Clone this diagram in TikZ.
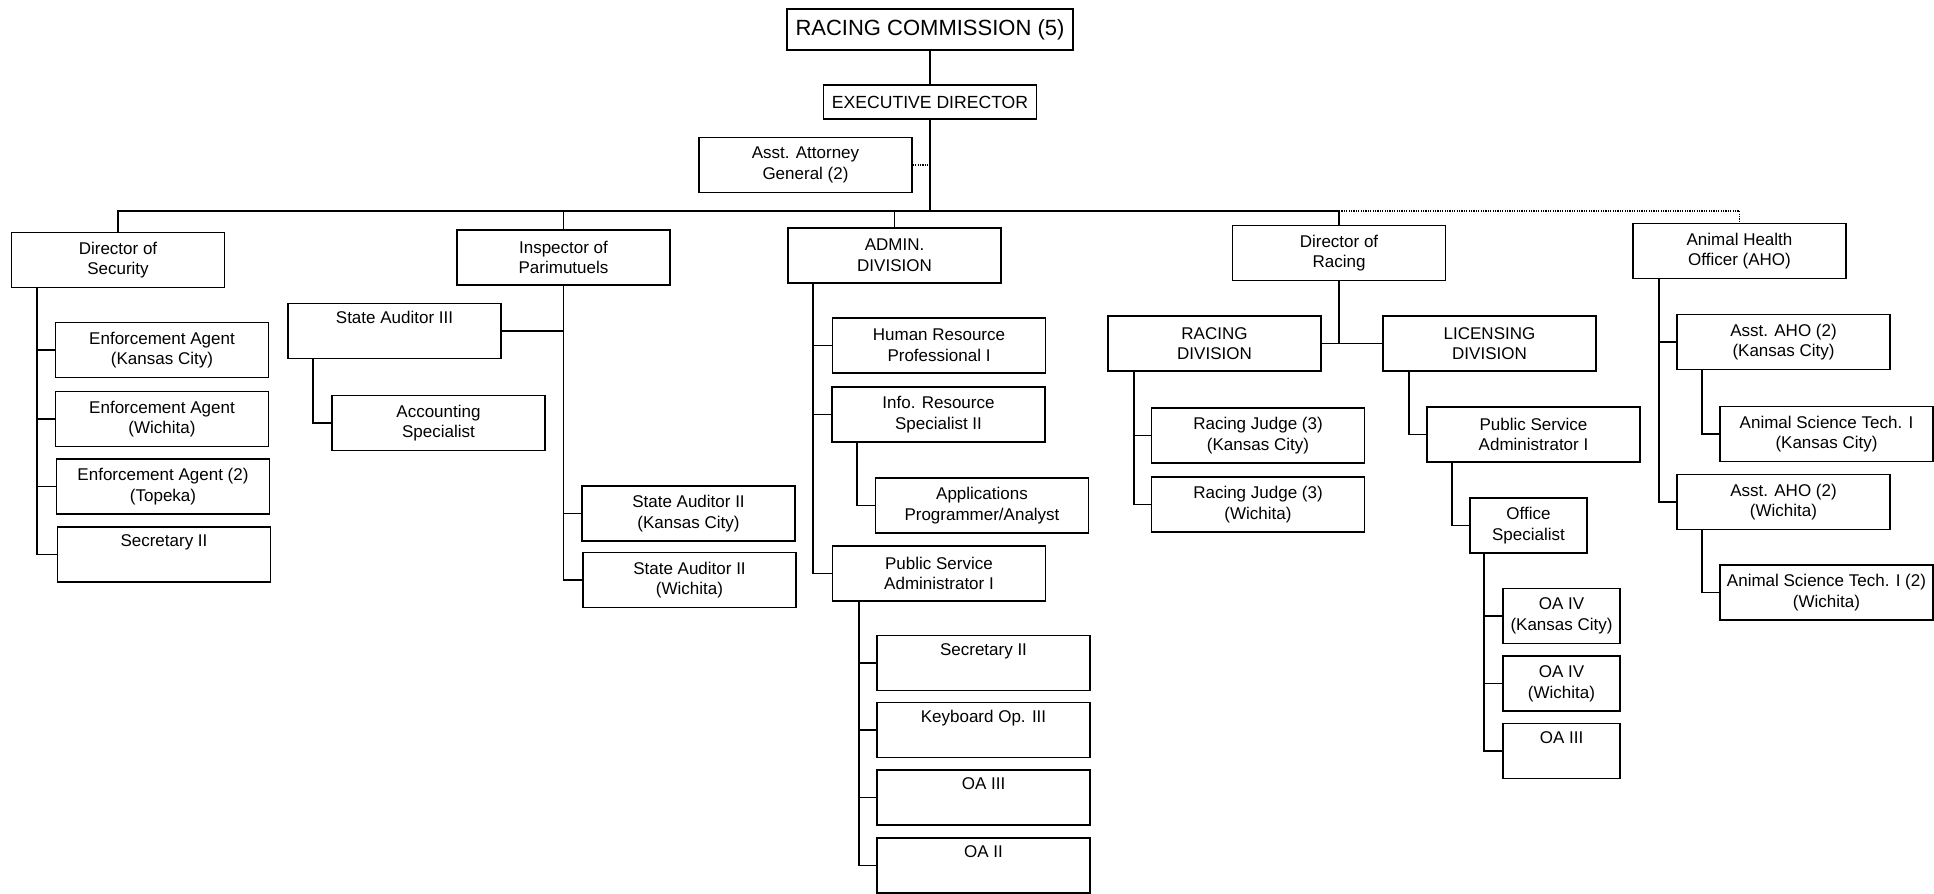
\documentclass[tikz,border=0pt]{standalone}
\usepackage{fontspec}
\setmainfont{Liberation Sans}

\begin{document}
\begin{tikzpicture}[x=0.5pt,y=-0.5pt,
	post/.style={draw,line width=0.8pt,minimum width=106.5pt,minimum height=27.5pt,inner sep=0pt,align=center,font=\fontsize{8.5}{10.35}\selectfont},
	postnarrow/.style={post,minimum width=58.5pt},
	link/.style={line width=0.8pt},
	dotlink/.style={line width=0.8pt,dash pattern=on 0.6pt off 0.6pt}]
	\useasboundingbox (0,0) rectangle (1934,894); %same size as the chart

	%Shape: Rectangle (top)
	\node [post,minimum width=143pt,minimum height=20.5pt,font=\fontsize{11}{13}\selectfont] (rc) at (930,29.5) {RACING COMMISSION (5)};
	\node [post,minimum height=17pt,font=\fontsize{8.8}{10.5}\selectfont] (ed) at (930,102) {EXECUTIVE DIRECTOR};
	\node [post] (aag) at (805.5,165) {Asst. Attorney\\General (2)};
	\coordinate (bus) at (930,211);

	%Shape: Rectangle (second row)
	\node [post] (dos) at (118,260) {Director of\\Security};
	\node [post] (insp) at (563.5,257.5) {Inspector of\\Parimutuels};
	\node [post] (admin) at (894.5,255.5) {ADMIN.\\DIVISION};
	\node [post] (racing) at (1339,253) {Director of\\Racing};
	\node [post] (aho) at (1739.5,251) {Animal Health\\Officer (AHO)};

	%Shape: Rectangle (security)
	\node [post] (ea1) at (162,350) {Enforcement Agent\\(Kansas City)};
	\node [post] (ea2) at (162,419) {Enforcement Agent\\(Wichita)};
	\node [post] (ea3) at (163,486.5) {Enforcement Agent (2)\\(Topeka)};
	\node [post] (sec1) at (164,554.5) {Secretary II\\\strut};

	%Shape: Rectangle (parimutuels)
	\node [post] (sa3) at (394.5,331) {State Auditor III\\\strut};
	\node [post] (acc) at (438.5,423) {Accounting\\Specialist};
	\node [post] (sa2k) at (688.5,513.5) {State Auditor II\\(Kansas City)};
	\node [post] (sa2w) at (689.5,580) {State Auditor II\\(Wichita)};

	%Shape: Rectangle (admin)
	\node [post] (hr) at (939,345.5) {Human Resource\\Professional I};
	\node [post] (irs) at (938.5,414.5) {Info. Resource\\Specialist II};
	\node [post] (apps) at (982,505.5) {Applications\\Programmer/Analyst};
	\node [post] (psa) at (939,573.5) {Public Service\\Administrator I};
	\node [post] (sec2) at (983.5,663) {Secretary II\\\strut};
	\node [post] (kop) at (983.5,730) {Keyboard Op. III\\\strut};
	\node [post] (oa3a) at (983.5,797.5) {OA III\\\strut};
	\node [post] (oa2) at (983.5,865.5) {OA II\\\strut};

	%Shape: Rectangle (racing)
	\node [post] (rdiv) at (1214.5,343.5) {RACING\\DIVISION};
	\node [post] (ldiv) at (1489.5,343.5) {LICENSING\\DIVISION};
	\node [post] (rj1) at (1258,435.5) {Racing Judge (3)\\(Kansas City)};
	\node [post] (rj2) at (1258,504.5) {Racing Judge (3)\\(Wichita)};
	\node [post] (lpsa) at (1533.5,434.5) {Public Service\\Administrator I};
	\node [postnarrow] (os) at (1528.5,525.5) {Office\\Specialist};
	\node [postnarrow] (oa4k) at (1561.5,616) {OA IV\\(Kansas City)};
	\node [postnarrow] (oa4w) at (1561.5,683.5) {OA IV\\(Wichita)};
	\node [postnarrow] (oa3b) at (1561.5,751) {OA III\\\strut};

	%Shape: Rectangle (animal health)
	\node [post] (ahok) at (1783.5,342) {Asst. AHO (2)\\(Kansas City)};
	\node [post] (ast1) at (1826.5,434) {Animal Science Tech. I\\(Kansas City)};
	\node [post] (ahow) at (1783.5,502) {Asst. AHO (2)\\(Wichita)};
	\node [post] (ast2) at (1826.5,592.5) {Animal Science Tech. I (2)\\(Wichita)};

	%Straight Lines (top)
	\draw [link] (rc.south) -- (ed.north);
	\draw [link] (ed.south) -- (bus);
	\draw [link] (dos.north) |- (bus) -| (racing.north);
	\draw [link] (insp.north) -- (insp.north |- bus);
	\draw [link] (admin.north) -- (admin.north |- bus);
	\draw [dotlink] (racing.north |- bus) -| (aho.north);
	\draw [dotlink] (aag.east) -- (aag.east -| bus);

	%Straight Lines (security)
	\draw [link] (dos.south west) ++(26,0) |- (ea1.west);
	\draw [link] (dos.south west) ++(26,0) |- (ea2.west);
	\draw [link] (dos.south west) ++(26,0) |- (ea3.west);
	\draw [link] (dos.south west) ++(26,0) |- (sec1.west);

	%Straight Lines (parimutuels)
	\draw [link] (insp.south) |- (sa3.east);
	\draw [link] (insp.south) |- (sa2k.west);
	\draw [link] (insp.south) |- (sa2w.west);
	\draw [link] (sa3.south west) ++(26,0) |- (acc.west);

	%Straight Lines (admin)
	\draw [link] (admin.south west) ++(26,0) |- (hr.west);
	\draw [link] (admin.south west) ++(26,0) |- (irs.west);
	\draw [link] (admin.south west) ++(26,0) |- (psa.west);
	\draw [link] (irs.south west) ++(26,0) |- (apps.west);
	\draw [link] (psa.south west) ++(27,0) |- (sec2.west);
	\draw [link] (psa.south west) ++(27,0) |- (kop.west);
	\draw [link] (psa.south west) ++(27,0) |- (oa3a.west);
	\draw [link] (psa.south west) ++(27,0) |- (oa2.west);

	%Straight Lines (racing)
	\draw [link] (racing.south) -- (racing.south |- rdiv.east);
	\draw [link] (rdiv.east) -- (ldiv.west);
	\draw [link] (rdiv.south west) ++(27,0) |- (rj1.west);
	\draw [link] (rdiv.south west) ++(27,0) |- (rj2.west);
	\draw [link] (ldiv.south west) ++(27,0) |- (lpsa.west);
	\draw [link] (lpsa.south west) ++(26,0) |- (os.west);
	\draw [link] (os.south west) ++(15,0) |- (oa4k.west);
	\draw [link] (os.south west) ++(15,0) |- (oa4w.west);
	\draw [link] (os.south west) ++(15,0) |- (oa3b.west);

	%Straight Lines (animal health)
	\draw [link] (aho.south west) ++(27,0) |- (ahok.west);
	\draw [link] (aho.south west) ++(27,0) |- (ahow.west);
	\draw [link] (ahok.south west) ++(26,0) |- (ast1.west);
	\draw [link] (ahow.south west) ++(26,0) |- (ast2.west);

\end{tikzpicture}
\end{document}
